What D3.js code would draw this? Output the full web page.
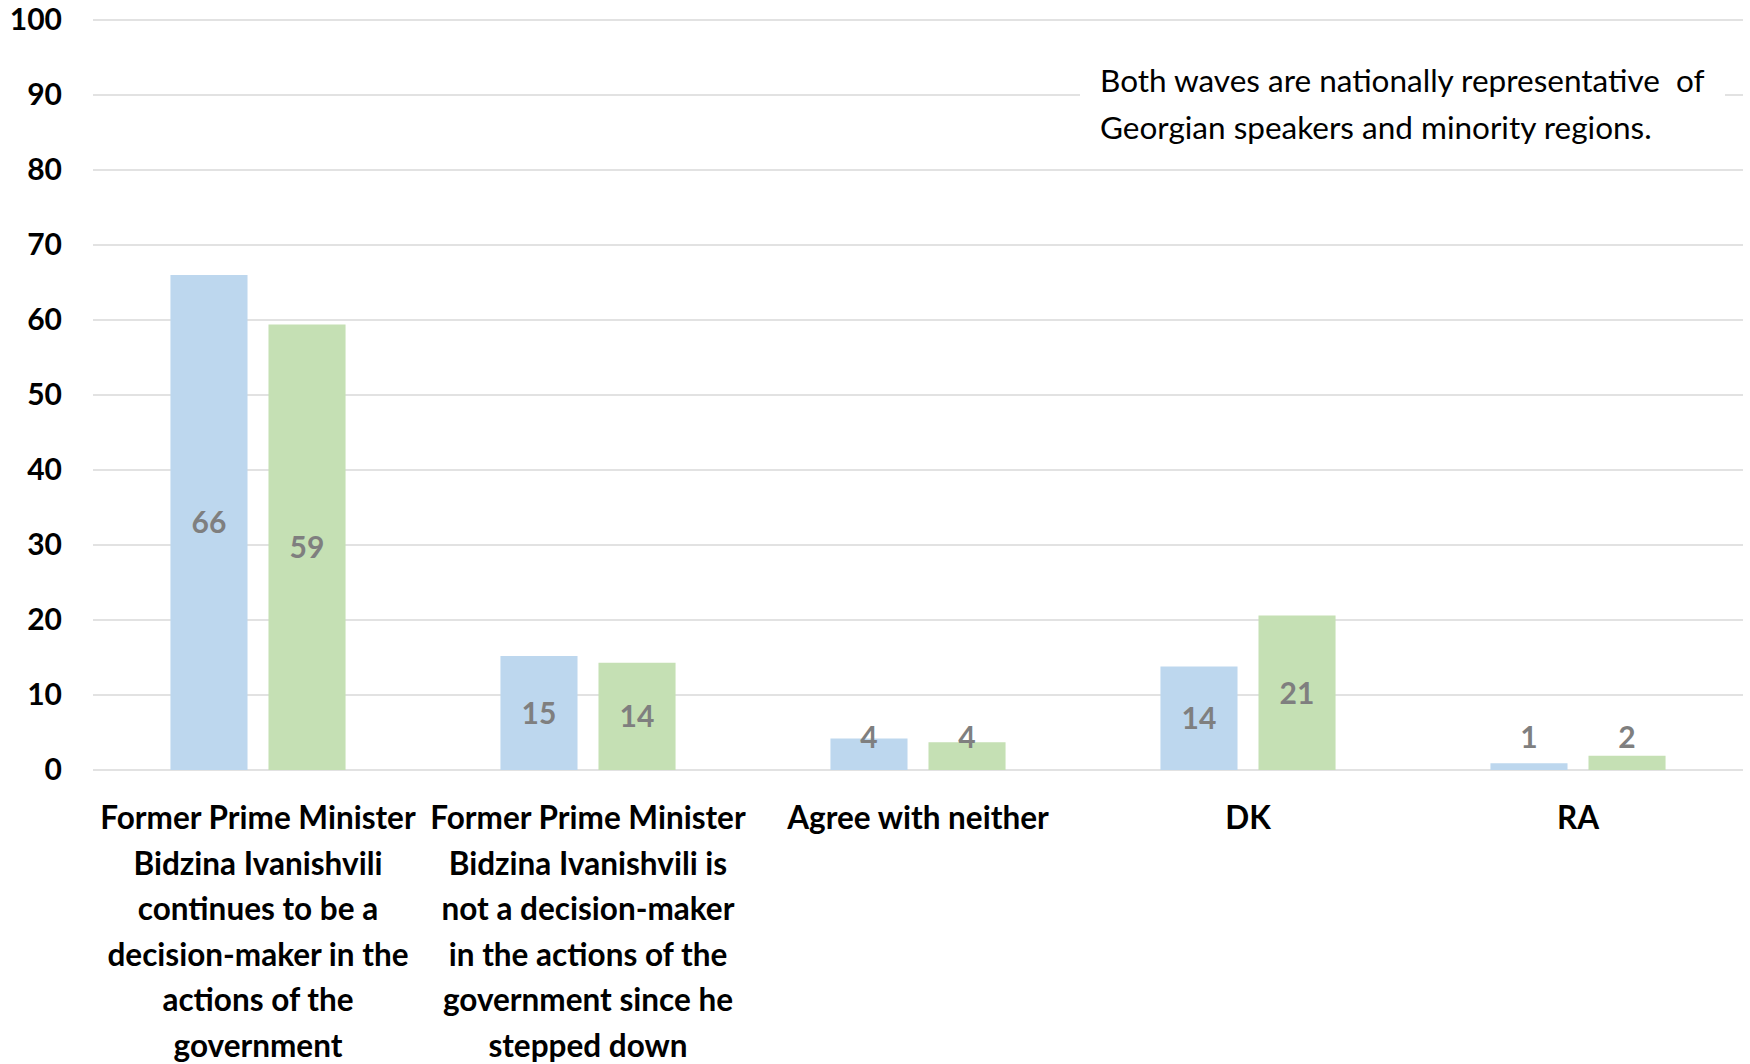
<!DOCTYPE html>
<html>
<head>
<meta charset="utf-8">
<script src="https://cdn.jsdelivr.net/npm/d3@7/dist/d3.min.js"></script>
<style>
  html, body { margin: 0; padding: 0; background: #fff; }
  svg { display: block; }
  text { font-family: Lato, "Open Sans", sans-serif; }
</style>
</head>
<body>
<svg id="chart" width="1750" height="1064"></svg>
<script>
// ---- Data ----
const categories = [
  "Former Prime Minister Bidzina Ivanishvili continues to be a decision-maker in the actions of the government",
  "Former Prime Minister Bidzina Ivanishvili is not a decision-maker in the actions of the government since he stepped down",
  "Agree with neither",
  "DK",
  "RA"
];
const categoryLines = [
  ["Former Prime Minister", "Bidzina Ivanishvili", "continues to be a", "decision-maker in the", "actions of the", "government"],
  ["Former Prime Minister", "Bidzina Ivanishvili is", "not a decision-maker", "in the actions of the", "government since he", "stepped down"],
  ["Agree with neither"],
  ["DK"],
  ["RA"]
];
const seriesNames = ["Wave 1", "Wave 2"];
const wave1 = [66.0, 15.2, 4.2, 13.8, 0.9];
const wave2 = [59.4, 14.3, 3.7, 20.6, 1.9];
const yTicks = [0, 10, 20, 30, 40, 50, 60, 70, 80, 90, 100];
const noteLines = [
  "Both waves are nationally representative  of",
  "Georgian speakers and minority regions."
];

// ---- Layout ----
const svg = d3.select("#chart");
const plotLeft = 93, plotRight = 1743, plotTop = 20, plotBottom = 770;
const colors = ["#bdd7ee", "#c5e0b4"];

const x = d3.scaleBand().domain(d3.range(categories.length)).range([plotLeft, plotRight]).padding(0);
const xs = d3.scaleBand().domain([0, 1]).range([0, x.bandwidth()]).paddingInner(0.214).paddingOuter(0.79);
const y = d3.scaleLinear().domain([0, 100]).range([plotBottom, plotTop]);

// gridlines
svg.append("g").selectAll("line").data(yTicks).join("line")
  .attr("x1", plotLeft).attr("x2", plotRight)
  .attr("y1", d => y(d)).attr("y2", d => y(d))
  .attr("stroke", "#d9d9d9").attr("stroke-width", 1.5);

// y axis labels
const yAxis = d3.axisLeft(y).tickValues(yTicks).tickSize(0).tickPadding(0);
const ya = svg.append("g").attr("transform", `translate(62,0)`).call(yAxis);
ya.select(".domain").remove();
ya.selectAll("text")
  .attr("font-size", 30).attr("font-weight", 700).attr("fill", "#000")
  .attr("font-family", "Lato, sans-serif");

// note box
const note = svg.append("g");
note.append("rect").attr("x", 1080).attr("y", 50).attr("width", 645).attr("height", 100).attr("fill", "#fff");
note.selectAll("text").data(noteLines).join("text")
  .attr("x", 1100).attr("y", (d, i) => 92 + i * 47)
  .attr("font-size", 31.5).attr("fill", "#000")
  .attr("xml:space", "preserve")
  .style("white-space", "pre")
  .text(d => d);

// bars
const data = [];
categories.forEach((c, i) => {
  [wave1, wave2].forEach((s, j) => data.push({ ci: i, si: j, v: s[i] }));
});
const bars = svg.append("g");
bars.selectAll("rect").data(data).join("rect")
  .attr("x", d => x(d.ci) + xs(d.si))
  .attr("width", xs.bandwidth())
  .attr("y", d => y(d.v))
  .attr("height", d => y(0) - y(d.v))
  .attr("fill", d => colors[d.si]);

// value labels
bars.selectAll("text").data(data).join("text")
  .attr("x", d => x(d.ci) + xs(d.si) + xs.bandwidth() / 2)
  .attr("y", d => Math.min(y(d.v / 2), y(4.4)))
  .attr("dy", "0.36em")
  .attr("text-anchor", "middle")
  .attr("font-size", 30).attr("font-weight", 700).attr("fill", "#7f7f7f")
  .text(d => Math.round(d.v));

// category labels
const xa = svg.append("g");
categoryLines.forEach((lines, i) => {
  const t = xa.append("text")
    .attr("text-anchor", "middle")
    .attr("font-size", 31.5).attr("font-weight", 700).attr("fill", "#000");
  lines.forEach((ln, k) => {
    t.append("tspan").attr("x", x(i) + x.bandwidth() / 2).attr("y", 829 + k * 45.5).text(ln);
  });
});
</script>
</body>
</html>
